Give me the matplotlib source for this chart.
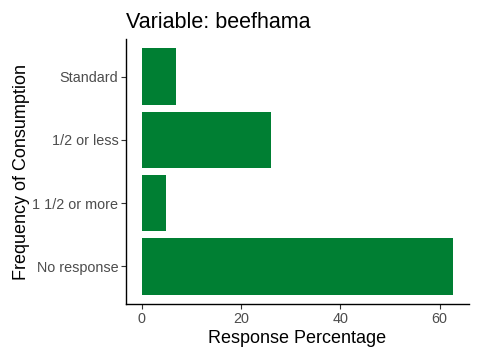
import matplotlib
matplotlib.use("Agg")
import matplotlib.pyplot as plt

categories = ["No response", "1 1/2 or more", "1/2 or less", "Standard"]
values = [62.8, 5.0, 26.0, 7.0]
xticks = [0, 20, 40, 60]

plt.rcParams['font.family'] = ['Liberation Sans', 'DejaVu Sans']

fig = plt.figure(figsize=(4.8, 3.6), dpi=100)
ax = fig.add_axes([126/480, 56/360, (469-126)/480, (304-39)/360])
ypos = list(range(len(categories)))
ax.barh(ypos, values, height=0.9, color="#007F33")
ax.set_yticks(ypos)
ax.set_yticklabels(categories)
ax.set_xticks(xticks)
xmax = max(values)
ax.set_xlim(-0.05*xmax, 1.05*xmax)
ax.set_ylim(-0.6, len(categories)-1+0.6)
for s in ["top", "right"]:
    ax.spines[s].set_visible(False)
for s in ["left", "bottom"]:
    ax.spines[s].set_linewidth(1.0)
ax.tick_params(axis="both", labelsize=10.4, labelcolor="#4D4D4D", color="#333333", length=3.5, width=0.8, pad=2)
ax.set_xlabel("Response Percentage", fontsize=13, labelpad=3)
ax.set_ylabel("Frequency of Consumption", fontsize=13, labelpad=2)
ax.set_title("Variable: beefhama", fontsize=15.5, loc="left", pad=8)
fig.savefig("out.png", dpi=100)
